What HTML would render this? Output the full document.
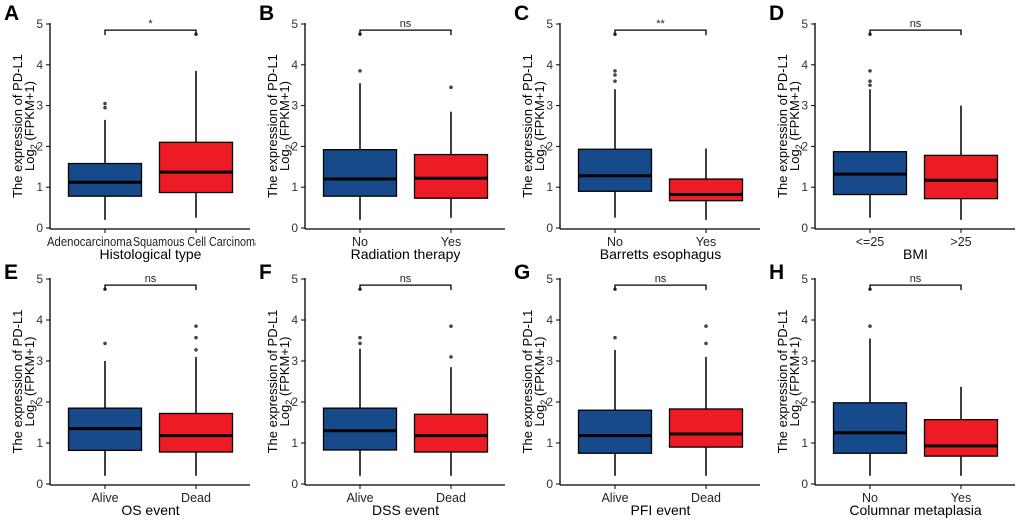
<!DOCTYPE html>
<html><head><meta charset="utf-8"><style>
body{margin:0;background:#fff;width:1020px;height:524px;overflow:hidden}
svg{font-family:"Liberation Sans",sans-serif}
</style></head><body>
<svg id="fig" width="1020" height="524" viewBox="0 0 1020 524" xmlns="http://www.w3.org/2000/svg">
<defs><clipPath id="clipA"><rect x="0" y="0" width="256" height="262"/></clipPath></defs>
</svg>
<script>
const panelLabels=["A","B","C","D","E","F","G","H"];
const xTitles=["Histological type","Radiation therapy","Barretts esophagus","BMI","OS event","DSS event","PFI event","Columnar metaplasia"];
const groupNames=[["Adenocarcinoma","Squamous Cell Carcinoma"],["No","Yes"],["No","Yes"],["<=25",">25"],["Alive","Dead"],["Alive","Dead"],["Alive","Dead"],["No","Yes"]];
const sigLabels=["*","ns","**","ns","ns","ns","ns","ns"];
// [whiskerLow, q1, median, q3, whiskerHigh] for group1 / group2
const stats1=[[0.2,0.78,1.12,1.58,2.65],[0.2,0.78,1.2,1.92,3.55],[0.25,0.9,1.28,1.93,3.4],[0.25,0.82,1.32,1.87,3.4],[0.2,0.82,1.35,1.85,3.0],[0.2,0.83,1.3,1.85,3.3],[0.2,0.75,1.18,1.8,3.27],[0.2,0.75,1.25,1.98,3.55]];
const stats2=[[0.25,0.87,1.37,2.1,3.85],[0.25,0.73,1.22,1.8,2.85],[0.2,0.67,0.82,1.2,1.95],[0.2,0.72,1.17,1.78,3.0],[0.2,0.78,1.18,1.72,3.1],[0.2,0.78,1.18,1.7,2.85],[0.2,0.9,1.22,1.83,3.1],[0.2,0.68,0.93,1.57,2.37]];
const outliers1=[[2.95,3.05],[3.85,4.75],[3.6,3.75,3.85,4.75],[3.5,3.6,3.85,4.75],[3.43,4.75],[3.43,3.57,4.75],[3.57,4.75],[3.85,4.75]];
const outliers2=[[4.75],[3.45],[],[],[3.27,3.57,3.85],[3.1,3.85],[3.43,3.85],[]];
const yTicks=[0,1,2,3,4,5];
const bracketY=4.85;

const NS="http://www.w3.org/2000/svg";
const svg=document.getElementById('fig');
function mk(tag,attrs,parent,text){const e=document.createElementNS(NS,tag);for(const k in attrs)e.setAttribute(k,attrs[k]);if(text!==undefined)e.textContent=text;parent.appendChild(e);return e;}
const colors=["#174a8b","#ed1c24"];
for(let p=0;p<8;p++){
  const col=p%4,row=Math.floor(p/4);
  const ox=col*255, y0=row?484:228, y5=row?279:24;
  const g=mk('g',{},svg);
  
  
  const ys=v=>y0-(y0-y5)*v/5;
  const axX=ox+50, axEnd=ox+250;
  const cx=[ox+105,ox+196], bw=73;
  const pl=mk('text',{x:ox+4,y:row?279:20,'font-size':21,'font-weight':'bold',fill:'#000'},g,panelLabels[p]);
  
  const ya=mk('line',{x1:axX,x2:axX,y1:ys(0)+1,y2:ys(5)-1,stroke:'#000','stroke-width':1.3},g);
  
  const xa=mk('line',{x1:axX,x2:axEnd,y1:y0+1,y2:y0+1,stroke:'#000','stroke-width':1.3},g);
  
  yTicks.forEach(t=>{
    mk('line',{x1:axX-4,x2:axX,y1:ys(t),y2:ys(t),stroke:'#000','stroke-width':1},g);
    const tl=mk('text',{x:axX-7,y:ys(t)+4,'font-size':12,'text-anchor':'end',fill:'#333'},g,String(t));
    
  });
  const yt=mk('text',{transform:`translate(${ox+22},${(y0+y5)/2}) rotate(-90)`,'font-size':13,'text-anchor':'middle',fill:'#000'},g);
  
  mk('tspan',{x:0,y:0},yt,'The expression of PD-L1');
  mk('tspan',{x:0,y:12},yt,'Log');
  mk('tspan',{'font-size':9,dy:3},yt,'2');
  mk('tspan',{dy:-3},yt,' (FPKM+1)');
  [stats1[p],stats2[p]].forEach((s,i)=>{
    const x=cx[i];
    mk('line',{x1:x,x2:x,y1:y0+1,y2:y0+5,stroke:'#000','stroke-width':1},g);
    let la={x:x,y:y0+18,'font-size':12.5,'text-anchor':'middle',fill:'#222'};
    if(p===0){la=i?{x:ox+133,y:y0+18,'font-size':12.5,'text-anchor':'start',fill:'#222','clip-path':'url(#clipA)',textLength:128,lengthAdjust:'spacingAndGlyphs'}:{x:ox+47,y:y0+18,'font-size':12.5,'text-anchor':'start',fill:'#222',textLength:85,lengthAdjust:'spacingAndGlyphs'};}
    const gl=mk('text',la,g,groupNames[p][i]);
    
    const w=mk('line',{x1:x,x2:x,y1:ys(s[0]),y2:ys(s[4]),stroke:'#000','stroke-width':1.5},g);
    
    const b=mk('rect',{x:x-bw/2,y:ys(s[3]),width:bw,height:ys(s[1])-ys(s[3]),fill:colors[i],stroke:'#000','stroke-width':1.3},g);
    
    const m=mk('line',{x1:x-bw/2,x2:x+bw/2,y1:ys(s[2]),y2:ys(s[2]),stroke:'#000','stroke-width':3},g);
    
    (i?outliers2[p]:outliers1[p]).forEach(o=>{
      const c=mk('circle',{cx:x,cy:ys(o),r:1.8,fill:'#444'},g);
      
    });
  });
  const xt=mk('text',{x:(cx[0]+cx[1])/2,y:y0+31,'font-size':14,'text-anchor':'middle',fill:'#000'},g,xTitles[p]);
  
  const by=ys(bracketY);
  const br=mk('path',{d:`M${cx[0]},${by+5}V${by}H${cx[1]}V${by+5}`,fill:'none',stroke:'#000','stroke-width':1.3},g);
  
  const sl=mk('text',{x:(cx[0]+cx[1])/2,y:by-3,'font-size':11,'text-anchor':'middle',fill:'#222'},g,sigLabels[p]);
  
}
</script>
</body></html>
